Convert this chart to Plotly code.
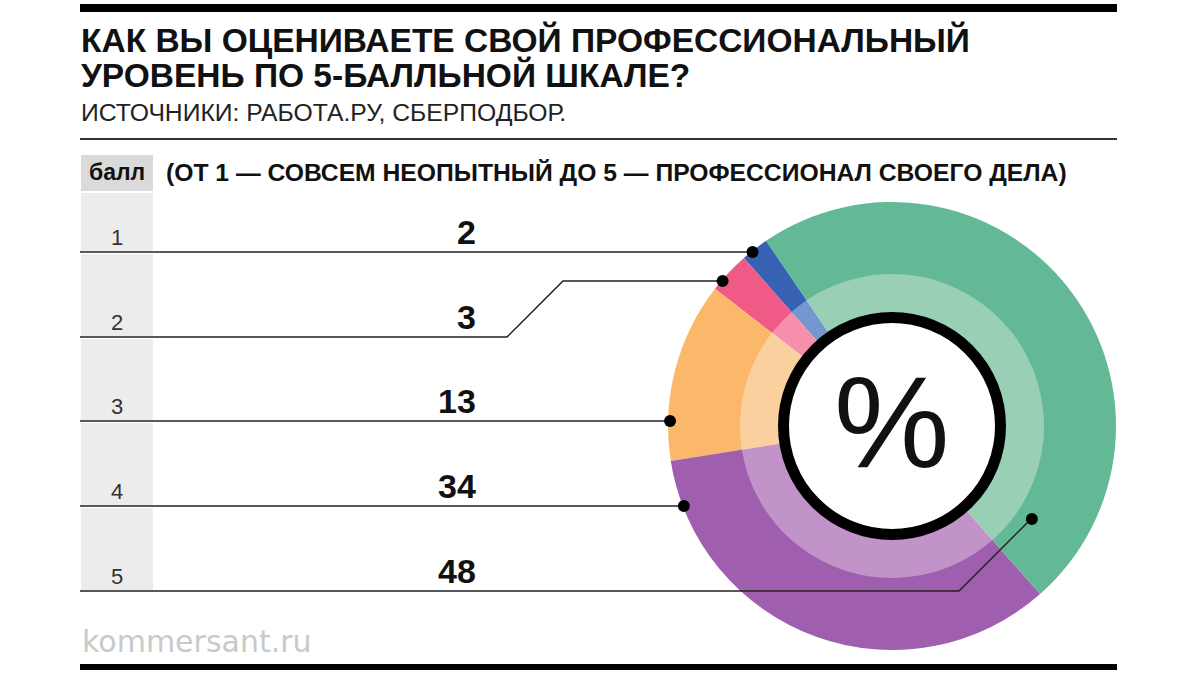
import math
import plotly.graph_objects as go

W, H = 1200, 675

# ---------------- data ----------------
scores = ["1", "2", "3", "4", "5"]
shares = [2, 3, 13, 34, 48]
colors_outer = ["#3762b4", "#ef5a86", "#fbb86b", "#a05fae", "#63b996"]
colors_inner = ["#7597cf", "#f58fab", "#fbd09f", "#c193c9", "#99d0b5"]

title_lines = ["КАК ВЫ ОЦЕНИВАЕТЕ СВОЙ ПРОФЕССИОНАЛЬНЫЙ", "УРОВЕНЬ ПО 5-БАЛЛЬНОЙ ШКАЛЕ?"]
subtitle = "ИСТОЧНИКИ: РАБОТА.РУ, СБЕРПОДБОР."
col_header = "балл"
scale_note = "(ОТ 1 — СОВСЕМ НЕОПЫТНЫЙ ДО 5 — ПРОФЕССИОНАЛ СВОЕГО ДЕЛА)"
footer = "kommersant.ru"

# ---------------- layout geometry (pixels) ----------------
cx, cy, R = 892, 426, 224
R_in = 151
ring_r, ring_w = 108.5, 11
left, right = 80, 1117
row_lines = [252, 337, 421, 506, 591]
val_x = 478
start_angle = -34.2  # boundary between score 1 and score 5 (deg, clockwise from 12 o'clock)

FONT = "Liberation Sans, Arial, sans-serif"

def px(x):
    return x / W

def py(y):
    return 1 - y / H

# counterclockwise pies in plotly start the first slice at rotation + its share
rot = start_angle - 360 * shares[0] / sum(shares)

fig = go.Figure()

# outer ring
fig.add_trace(go.Pie(
    values=shares, labels=scores, sort=False, direction="counterclockwise",
    rotation=rot, hole=R_in / R, textinfo="none", hoverinfo="skip",
    marker=dict(colors=colors_outer, line=dict(width=0)),
    domain=dict(x=[px(cx - R), px(cx + R)], y=[py(cy + R), py(cy - R)]),
    showlegend=False,
))
# inner lighter ring
fig.add_trace(go.Pie(
    values=shares, labels=scores, sort=False, direction="counterclockwise",
    rotation=rot, hole=98 / (R_in + 1), textinfo="none", hoverinfo="skip",
    marker=dict(colors=colors_inner, line=dict(width=0)),
    domain=dict(x=[px(cx - R_in - 1), px(cx + R_in + 1)], y=[py(cy + R_in + 1), py(cy - R_in - 1)]),
    showlegend=False,
))

shapes = []
# top & bottom bars, separator
shapes.append(dict(type="rect", xref="x", yref="y", x0=left, x1=right, y0=4, y1=12,
                   fillcolor="#000", line=dict(width=0), layer="below"))
shapes.append(dict(type="line", xref="x", yref="y", x0=left, x1=right, y0=139, y1=139,
                   line=dict(color="#333", width=2), layer="below"))
shapes.append(dict(type="rect", xref="x", yref="y", x0=left, x1=right, y0=664, y1=670,
                   fillcolor="#000", line=dict(width=0), layer="below"))
# header cell
shapes.append(dict(type="rect", xref="x", yref="y", x0=81, x1=153, y0=155, y1=191,
                   fillcolor="#dadada", line=dict(width=0), layer="below"))
# row cells
prev = 193
for yb in row_lines:
    shapes.append(dict(type="rect", xref="x", yref="y", x0=81, x1=153, y0=prev, y1=yb - 1,
                       fillcolor="#ececec", line=dict(width=0), layer="below"))
    prev = yb + 2

# leader lines: (dot y, dot radius, side, elbow x)
leaders = [
    (252, R - 1, -1, None),
    (281, R - 1, -1, 507),
    (421, R - 2, -1, None),
    (506, R - 1, -1, None),
    (519, 168, 1, 959),
]
for yb, (dy, dr, side, ex) in zip(row_lines, leaders):
    dx = cx + side * math.sqrt(dr ** 2 - (dy - cy) ** 2)
    if ex is None:
        path = f"M {left},{yb} L {dx},{dy}"
    else:
        kx = ex + (yb - dy)
        if kx < dx:
            path = f"M {left},{yb} L {ex},{yb} L {kx},{dy} L {dx},{dy}"
        else:
            path = f"M {left},{yb} L {ex},{yb} L {dx},{dy}"
    shapes.append(dict(type="path", xref="x", yref="y", path=path,
                       line=dict(color="#222", width=1.5), layer="above"))
    shapes.append(dict(type="circle", xref="x", yref="y", x0=dx - 6, x1=dx + 6, y0=dy - 6, y1=dy + 6,
                       fillcolor="#000", line=dict(width=0), layer="above"))

# center black ring
shapes.append(dict(type="circle", xref="x", yref="y",
                   x0=cx - ring_r, x1=cx + ring_r, y0=cy - ring_r, y1=cy + ring_r,
                   fillcolor="#fff", line=dict(color="#000", width=ring_w), layer="above"))

ann = []
ann.append(dict(x=left - 1, y=39.5, text=f"<b>{title_lines[0]}</b>", xanchor="left", yanchor="middle",
                font=dict(family=FONT, size=33.5, color="#111"), showarrow=False))
ann.append(dict(x=left - 1, y=75, text=f"<b>{title_lines[1]}</b>", xanchor="left", yanchor="middle",
                font=dict(family=FONT, size=33.5, color="#111"), showarrow=False))
ann.append(dict(x=left - 1, y=112, text=subtitle, xanchor="left", yanchor="middle",
                font=dict(family=FONT, size=24.7, color="#222"), showarrow=False))
ann.append(dict(x=117, y=172, text=f"<b>{col_header}</b>", xanchor="center", yanchor="middle",
                font=dict(family=FONT, size=23, color="#111"), showarrow=False))
ann.append(dict(x=164, y=172, text=f"<b>{scale_note}</b>", xanchor="left", yanchor="middle",
                font=dict(family=FONT, size=24.7, color="#111"), showarrow=False))
for s, v, yb in zip(scores, shares, row_lines):
    ann.append(dict(x=117, y=yb - 15, text=s, xanchor="center", yanchor="middle",
                    font=dict(family=FONT, size=22, color="#333"), showarrow=False))
    ann.append(dict(x=val_x, y=yb - 20, text=f"<b>{v}</b>", xanchor="right", yanchor="middle",
                    font=dict(family=FONT, size=34, color="#111"), showarrow=False))
ann.append(dict(x=cx, y=cy - 4, text="%", xanchor="center", yanchor="middle",
                font=dict(family=FONT, size=130, color="#111"), showarrow=False))
ann.append(dict(x=left, y=641, text=footer, xanchor="left", yanchor="middle",
                font=dict(family="DejaVu Sans, sans-serif", size=30, color="#c9c9c9"), showarrow=False))

fig.update_layout(
    width=W, height=H, margin=dict(l=0, r=0, t=0, b=0),
    paper_bgcolor="#fff", plot_bgcolor="rgba(0,0,0,0)",
    xaxis=dict(range=[0, W], visible=False, domain=[0, 1], fixedrange=True),
    yaxis=dict(range=[H, 0], visible=False, domain=[0, 1], fixedrange=True),
    shapes=shapes, annotations=ann, showlegend=False,
)
fig.write_html("out.html")
